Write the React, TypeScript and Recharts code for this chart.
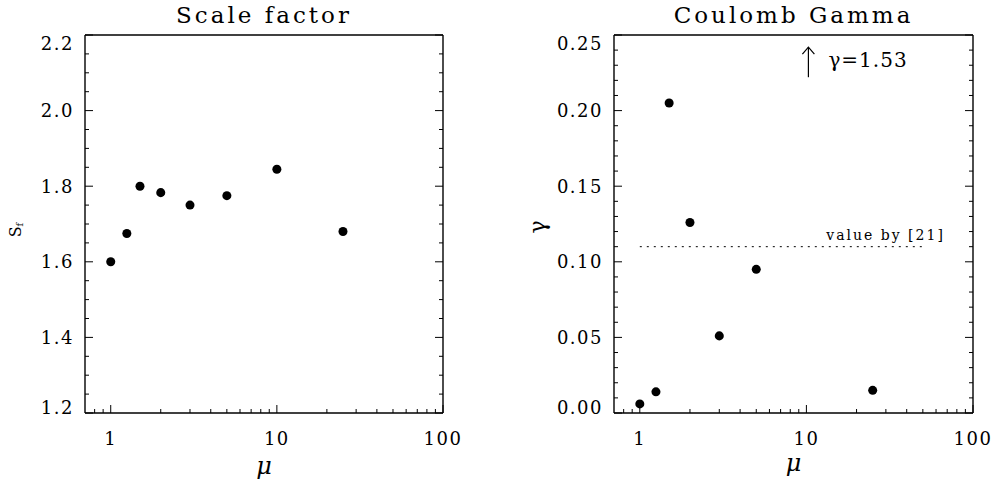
import React from 'react';
import { ScatterChart, Scatter, XAxis, YAxis, ReferenceLine, ReferenceDot, Label } from 'recharts';

// ---------- data ----------
const muValues = [1, 1.25, 1.5, 2, 3, 5, 10, 25];
const scaleFactorValues = [1.6, 1.675, 1.8, 1.783, 1.75, 1.775, 1.845, 1.68];
const gammaValues = [0.006, 0.014, 0.205, 0.126, 0.051, 0.095, 1.53, 0.015];

const muMajorTicks = [1, 10, 100];
const muMinorTicks = [0.8, 0.9, 2, 3, 4, 5, 6, 7, 8, 9, 20, 30, 40, 50, 60, 70, 80, 90];
const sfMajorTicks = [1.2, 1.4, 1.6, 1.8, 2.0, 2.2];
const sfMinorTicks = [1.25, 1.3, 1.35, 1.45, 1.5, 1.55, 1.65, 1.7, 1.75, 1.85, 1.9, 1.95, 2.05, 2.1, 2.15];
const gammaMajorTicks = [0, 0.05, 0.1, 0.15, 0.2, 0.25];
const gammaMinorTicks = [0.01, 0.02, 0.03, 0.04, 0.06, 0.07, 0.08, 0.09, 0.11, 0.12, 0.13, 0.14, 0.16, 0.17, 0.18, 0.19, 0.21, 0.22, 0.23, 0.24];

const muDomain: [number, number] = [0.7, 100];
const sfDomain: [number, number] = [1.2, 2.2];
const gammaDomain: [number, number] = [0, 0.25];

const referenceGamma = 0.11;
const referenceMuRange = [1, 50];
const referenceText = 'value by [21]';
const offScaleArrowGamma = 0.232;

const FONT = "'DejaVu Serif', 'Liberation Serif', serif";

const sfData = muValues.map((mu, i) => ({ mu, v: scaleFactorValues[i] }));
const gammaData = muValues
  .map((mu, i) => ({ mu, v: gammaValues[i] }))
  .filter((d) => d.v <= gammaDomain[1]);
const gammaOffScale = muValues
  .map((mu, i) => ({ mu, v: gammaValues[i] }))
  .filter((d) => d.v > gammaDomain[1]);

type Side = 'bottom' | 'top' | 'left' | 'right';

const near = (a: number, b: number) => Math.abs(a - b) < 1e-9;
const isIn = (list: number[], v: number) => list.some((m) => near(m, v));

function makeTick(side: Side, majors: number[], fmt?: (v: number) => string, domain?: [number, number]) {
  return function Tick(props: any) {
    const { x, y, payload } = props;
    const v = payload.value as number;
    const major = isIn(majors, v);
    const len = major ? 8 : 4;
    let x2 = x;
    let y2 = y;
    if (side === 'bottom') y2 = y - len;
    if (side === 'top') y2 = y + len;
    if (side === 'left') x2 = x + len;
    if (side === 'right') x2 = x - len;
    let label: React.ReactNode = null;
    if (major && fmt) {
      if (side === 'bottom') {
        label = (
          <text x={x} y={y + 32} textAnchor="middle" fontFamily={FONT} fontSize={18} letterSpacing={1.5} fill="#000">
            {fmt(v)}
          </text>
        );
      } else if (side === 'left') {
        let shift = 0;
        if (domain && near(v, domain[1])) shift = 8;
        if (domain && near(v, domain[0])) shift = -6;
        label = (
          <text x={x - 11} y={y + shift + 6.5} textAnchor="end" fontFamily={FONT} fontSize={18} letterSpacing={1.5} fill="#000">
            {fmt(v)}
          </text>
        );
      }
    }
    return (
      <g>
        <line x1={x} y1={y} x2={x2} y2={y2} stroke="#000" strokeWidth={1} />
        {label}
      </g>
    );
  };
}

const muTicks = [...muMinorTicks, ...muMajorTicks].sort((a, b) => a - b);
const fmtMu = (v: number) => String(v);

interface PanelProps {
  width: number;
  margin: { top: number; right: number; bottom: number; left: number };
  title: string;
  data: { mu: number; v: number }[];
  yDomain: [number, number];
  yMajor: number[];
  yMinor: number[];
  yFmt: (v: number) => string;
  renderYLabel: (vb: any) => React.ReactNode;
  xLabelBaseline: number;
  children?: React.ReactNode;
}

function Panel(p: PanelProps) {
  const yTicks = [...p.yMinor, ...p.yMajor].sort((a, b) => a - b);
  const axisLine = { stroke: '#000', strokeWidth: 1.4 };
  return (
    <ScatterChart width={p.width} height={485} margin={p.margin}>
      <XAxis
        dataKey="mu"
        type="number"
        scale="log"
        domain={muDomain}
        allowDataOverflow
        ticks={muTicks}
        interval={0}
        tickSize={0}
        tickMargin={0}
        tickLine={false}
        height={1}
        axisLine={axisLine}
        tick={makeTick('bottom', muMajorTicks, fmtMu)}
      >
        <Label
          content={(props: any) => {
            const vb = props.viewBox;
            return (
              <text x={vb.x + vb.width / 2} y={p.xLabelBaseline} textAnchor="middle" fontFamily={FONT} fontStyle="italic" fontSize={24} fill="#000">
                μ
              </text>
            );
          }}
        />
      </XAxis>
      <XAxis
        xAxisId="top"
        orientation="top"
        type="number"
        scale="log"
        domain={muDomain}
        allowDataOverflow
        ticks={muTicks}
        interval={0}
        tickSize={0}
        tickMargin={0}
        tickLine={false}
        height={1}
        axisLine={axisLine}
        tick={makeTick('top', muMajorTicks)}
      >
        <Label
          content={(props: any) => {
            const vb = props.viewBox;
            return (
              <text x={vb.x + vb.width / 2} y={23} textAnchor="middle" fontFamily={FONT} fontSize={23} letterSpacing={3} fill="#000">
                {p.title}
              </text>
            );
          }}
        />
      </XAxis>
      <YAxis
        dataKey="v"
        type="number"
        domain={p.yDomain}
        allowDataOverflow
        ticks={yTicks}
        interval={0}
        tickSize={0}
        tickMargin={0}
        tickLine={false}
        width={1}
        axisLine={axisLine}
        tick={makeTick('left', p.yMajor, p.yFmt, p.yDomain)}
      >
        <Label content={(props: any) => p.renderYLabel(props.viewBox)} />
      </YAxis>
      <YAxis
        yAxisId="right"
        orientation="right"
        type="number"
        domain={p.yDomain}
        allowDataOverflow
        ticks={yTicks}
        interval={0}
        tickSize={0}
        tickMargin={0}
        tickLine={false}
        width={1}
        axisLine={axisLine}
        tick={makeTick('right', p.yMajor)}
      />
      <Scatter data={p.data} fill="#000" stroke="none" isAnimationActive={false} />
      {p.children}
    </ScatterChart>
  );
}

export default function App() {
  return (
    <div style={{ position: 'absolute', left: 0, top: 0, width: 997, height: 485, background: '#fff', overflow: 'hidden' }}>
      <div style={{ position: 'absolute', left: 0, top: 0 }}>
        <Panel
          width={470}
          margin={{ top: 34, right: 26, bottom: 71, left: 84 }}
          title="Scale factor"
          data={sfData}
          yDomain={sfDomain}
          yMajor={sfMajorTicks}
          yMinor={sfMinorTicks}
          yFmt={(v) => v.toFixed(1)}
          xLabelBaseline={474}
          renderYLabel={(vb: any) => {
            const cx = vb.x + vb.width - 70;
            const cy = vb.y + vb.height / 2 + 6;
            return (
              <text x={cx} y={cy} transform={`rotate(-90, ${cx}, ${cy})`} textAnchor="middle" dominantBaseline="central" fontFamily={FONT} fontSize={16} fill="#000">
                S<tspan fontSize={10} dy={4}>f</tspan>
              </text>
            );
          }}
        />
      </div>
      <div style={{ position: 'absolute', left: 460, top: 0 }}>
        <Panel
          width={537}
          margin={{ top: 34, right: 23, bottom: 71, left: 153 }}
          title="Coulomb Gamma"
          data={gammaData}
          yDomain={gammaDomain}
          yMajor={gammaMajorTicks}
          yMinor={gammaMinorTicks}
          yFmt={(v) => v.toFixed(2)}
          xLabelBaseline={471}
          renderYLabel={(vb: any) => {
            const cx = vb.x + vb.width - 77;
            const cy = vb.y + vb.height / 2 + 3;
            return (
              <text x={cx} y={cy} transform={`rotate(-90, ${cx}, ${cy})`} textAnchor="middle" dominantBaseline="central" fontFamily={FONT} fontSize={22} fill="#000">
                γ
              </text>
            );
          }}
        >
          <ReferenceLine
            segment={[
              { x: referenceMuRange[0], y: referenceGamma },
              { x: referenceMuRange[1], y: referenceGamma },
            ]}
            stroke="#000"
            strokeWidth={1}
            strokeDasharray="2 5"
            label={(props: any) => {
              const vb = props.viewBox;
              return (
                <text x={vb.x + vb.width + 22} y={vb.y - 7} textAnchor="end" fontFamily={FONT} fontSize={14} letterSpacing={2} fill="#000">
                  {referenceText}
                </text>
              );
            }}
          />
          {gammaOffScale.map((d) => (
            <ReferenceDot
              key={d.mu}
              x={d.mu}
              y={offScaleArrowGamma}
              shape={(props: any) => {
                const { cx, cy } = props;
                const ax = cx + 2;
                return (
                  <g>
                    <line x1={ax} y1={cy + 15} x2={ax} y2={cy - 15} stroke="#000" strokeWidth={1.2} />
                    <polyline points={`${ax - 6},${cy - 8} ${ax},${cy - 15} ${ax + 6},${cy - 8}`} fill="none" stroke="#000" strokeWidth={1.2} />
                    <text x={cx + 22} y={cy + 5} fontFamily={FONT} fontSize={20} letterSpacing={1} fill="#000">
                      {`γ=${d.v}`}
                    </text>
                  </g>
                );
              }}
            />
          ))}
        </Panel>
      </div>
    </div>
  );
}
